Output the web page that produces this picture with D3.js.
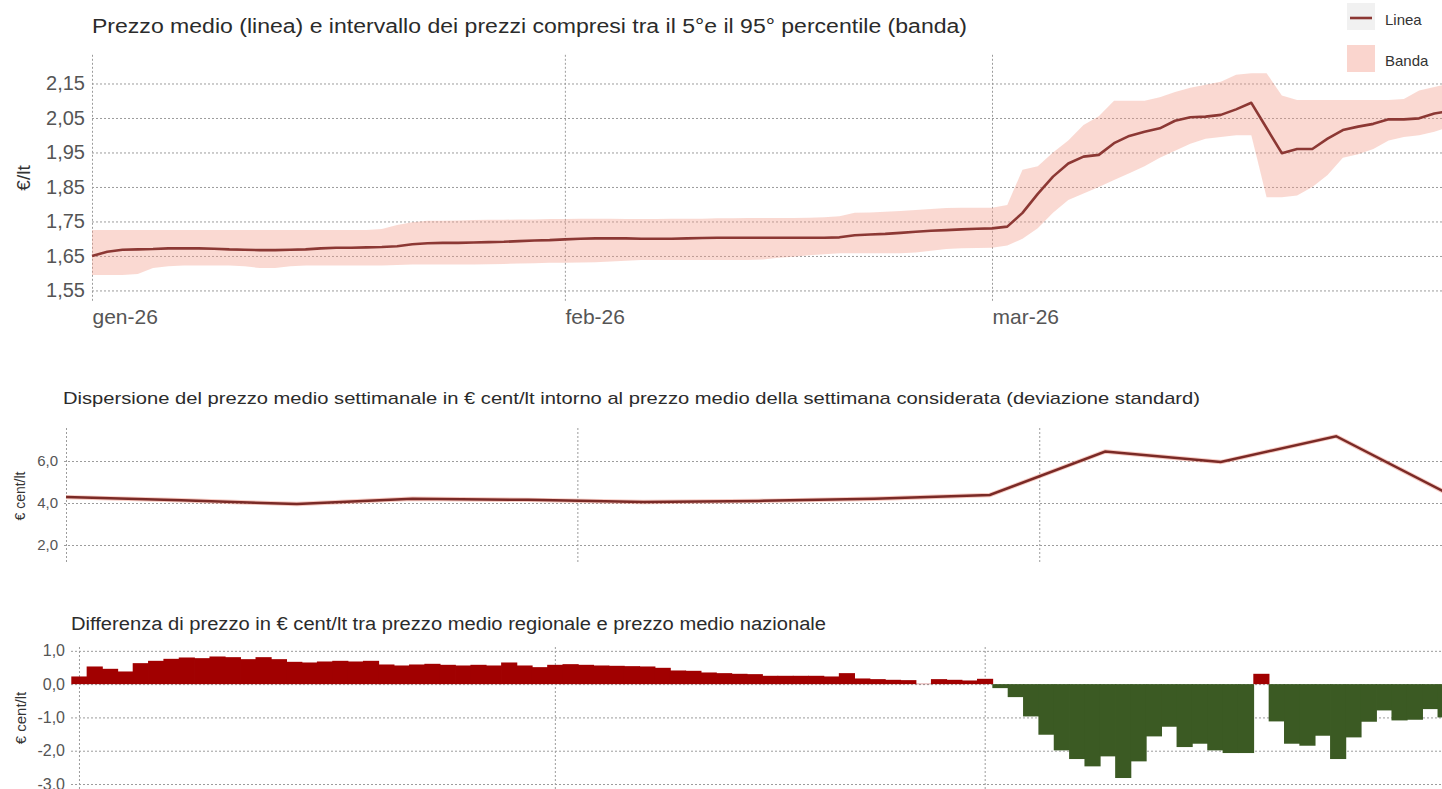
<!DOCTYPE html>
<html>
<head>
<meta charset="utf-8">
<script src="https://cdn.jsdelivr.net/npm/d3@7"></script>
<style>
body { margin: 0; background: #fff; }
text { font-family: "Liberation Sans", Arial, sans-serif; }
</style>
</head>
<body>
<script>
// valori giornalieri a partire dal 1 gennaio 2026
const prezzoMedio = [
    1.650, 1.662, 1.668, 1.669, 1.670, 1.672, 1.672, 1.672, 1.671, 1.669,
    1.668, 1.667, 1.667, 1.668, 1.669, 1.672, 1.674, 1.674, 1.675, 1.676,
    1.678, 1.684, 1.687, 1.688, 1.688, 1.689, 1.690, 1.691, 1.693, 1.695,
    1.696, 1.698, 1.700, 1.701, 1.701, 1.701, 1.700, 1.700, 1.700, 1.701,
    1.702, 1.703, 1.703, 1.703, 1.703, 1.703, 1.703, 1.703, 1.703, 1.704,
    1.710, 1.712, 1.714, 1.717, 1.720, 1.723, 1.725, 1.727, 1.729, 1.730,
    1.735, 1.775, 1.830, 1.880, 1.918, 1.938, 1.943, 1.977, 1.998, 2.010,
    2.020, 2.042, 2.052, 2.054, 2.059, 2.075, 2.094, 2.021, 1.948, 1.960,
    1.960, 1.990, 2.015, 2.025, 2.033, 2.046, 2.046, 2.049, 2.063, 2.070
];
const bandaMax = [
    1.725, 1.725, 1.725, 1.725, 1.725, 1.725, 1.725, 1.725, 1.725, 1.725,
    1.725, 1.725, 1.725, 1.725, 1.725, 1.725, 1.725, 1.725, 1.725, 1.728,
    1.740, 1.748, 1.752, 1.752, 1.753, 1.754, 1.755, 1.755, 1.756, 1.756,
    1.757, 1.757, 1.758, 1.758, 1.758, 1.757, 1.757, 1.757, 1.758, 1.758,
    1.758, 1.759, 1.759, 1.760, 1.760, 1.760, 1.760, 1.761, 1.762, 1.765,
    1.775, 1.776, 1.778, 1.780, 1.783, 1.786, 1.789, 1.790, 1.790, 1.790,
    1.798, 1.900, 1.910, 1.950, 1.985, 2.030, 2.055, 2.100, 2.100, 2.100,
    2.110, 2.125, 2.138, 2.146, 2.155, 2.175, 2.180, 2.180, 2.115, 2.102,
    2.102, 2.102, 2.102, 2.102, 2.102, 2.102, 2.105, 2.130, 2.140, 2.150
];
const bandaMin = [
    1.595, 1.595, 1.595, 1.598, 1.615, 1.620, 1.622, 1.622, 1.622, 1.622,
    1.620, 1.615, 1.615, 1.620, 1.622, 1.622, 1.622, 1.622, 1.622, 1.622,
    1.624, 1.625, 1.625, 1.625, 1.625, 1.625, 1.626, 1.627, 1.628, 1.629,
    1.630, 1.630, 1.631, 1.632, 1.634, 1.636, 1.638, 1.638, 1.638, 1.638,
    1.638, 1.638, 1.638, 1.638, 1.640, 1.645, 1.648, 1.652, 1.655, 1.658,
    1.658, 1.658, 1.658, 1.658, 1.660, 1.665, 1.670, 1.672, 1.673, 1.674,
    1.680, 1.700, 1.730, 1.775, 1.812, 1.831, 1.850, 1.870, 1.890, 1.910,
    1.935, 1.955, 1.975, 1.990, 1.995, 2.000, 2.000, 1.820, 1.820, 1.825,
    1.850, 1.885, 1.935, 1.945, 1.960, 1.985, 1.995, 2.000, 2.010, 2.025
];
const differenza = [
    0.23, 0.53, 0.46, 0.38, 0.63, 0.70, 0.76, 0.80, 0.78, 0.83,
    0.81, 0.75, 0.81, 0.75, 0.67, 0.65, 0.68, 0.70, 0.68, 0.70,
    0.59, 0.56, 0.59, 0.61, 0.58, 0.56, 0.58, 0.56, 0.65, 0.56,
    0.51, 0.58, 0.60, 0.58, 0.56, 0.55, 0.54, 0.53, 0.49, 0.41,
    0.40, 0.35, 0.33, 0.31, 0.30, 0.25, 0.25, 0.25, 0.25, 0.23,
    0.33, 0.17, 0.15, 0.13, 0.12, 0.01, 0.15, 0.13, 0.11, 0.16,
    -0.12, -0.39, -0.97, -1.52, -1.99, -2.25, -2.47, -2.17, -2.82, -2.32,
    -1.57, -1.28, -1.89, -1.79, -1.99, -2.07, -2.07, 0.31, -1.12, -1.79,
    -1.85, -1.55, -2.25, -1.60, -1.13, -0.79, -1.09, -1.07, -0.75, -1.00
];

// valori settimanali
const settimane = [
    "2026-01-01", "2026-01-08", "2026-01-15", "2026-01-22", "2026-01-29",
    "2026-02-05", "2026-02-12", "2026-02-19", "2026-02-26",
    "2026-03-05", "2026-03-12", "2026-03-19", "2026-03-26"
];
const deviazione = [4.28, 4.13, 3.95, 4.20, 4.15, 4.05, 4.10, 4.20, 4.38, 6.45, 5.95, 7.18, 4.35];

// assi
const mesi = ["2026-01-01", "2026-02-01", "2026-03-01"];
const mesiLabels = ["gen-26", "feb-26", "mar-26"];
const prezzoTicks = [1.55, 1.65, 1.75, 1.85, 1.95, 2.05, 2.15];
const devTicks = [2, 4, 6];
const diffTicks = [1, 0, -1, -2, -3];

const width = 1442;
const height = 789;
const inizio = new Date(Date.UTC(2026, 0, 1));
const meseDate = mesi.map(function(s) { return new Date(s + "T00:00:00Z"); });

var it = d3.formatLocale({ decimal: ",", thousands: ".", grouping: [3], currency: ["€", ""], minus: "-" });

var giornaliero = prezzoMedio.map(function(v, i) {
    return { date: d3.utcDay.offset(inizio, i), media: v, min: bandaMin[i], max: bandaMax[i], diff: differenza[i] };
});
var settimanale = settimane.map(function(s, i) {
    return { date: new Date(s + "T00:00:00Z"), value: deviazione[i] };
});

var svg = d3.select("body").append("svg")
    .attr("width", width)
    .attr("height", height);

function styleGrid(g, fontSize) {
    g.select(".domain").remove();
    g.selectAll(".tick line")
        .attr("stroke", "#9c9c9c")
        .attr("stroke-width", 1)
        .attr("stroke-dasharray", "2,2");
    g.selectAll(".tick text")
        .attr("fill", "#555")
        .style("font-size", fontSize + "px")
        .style("font-family", "'Liberation Sans', Arial, sans-serif");
}

function title(x, y, size, len, str) {
    svg.append("text")
        .attr("x", x)
        .attr("y", y)
        .attr("fill", "#2b2b2b")
        .style("font-size", size + "px")
        .attr("textLength", len)
        .attr("lengthAdjust", "spacingAndGlyphs")
        .text(str);
}

function yTitle(x, y, size, str) {
    svg.append("text")
        .attr("transform", "translate(" + x + "," + y + ") rotate(-90)")
        .attr("text-anchor", "middle")
        .attr("fill", "#333")
        .style("font-size", size + "px")
        .text(str);
}

// ---------- pannello 1: prezzo medio e banda ----------
var xTop = d3.scaleUtc()
    .domain([inizio, d3.utcHour.offset(inizio, 88.5 * 24)])
    .range([92, width]);
var yTop = d3.scaleLinear().domain([1.52, 2.23]).range([300.8, 55.9]);

svg.append("g")
    .attr("transform", "translate(92,0)")
    .call(d3.axisLeft(yTop).tickValues(prezzoTicks).tickSize(-(width - 92)).tickPadding(7).tickFormat(it.format(".2f")))
    .call(function(g) { styleGrid(g, 20); });

var xAxisTop = svg.append("g")
    .attr("transform", "translate(0,300.8)")
    .call(d3.axisBottom(xTop).tickValues(meseDate).tickSize(-(300.8 - 54)).tickPadding(8)
        .tickFormat(function(d, i) { return mesiLabels[i]; }))
    .call(function(g) { styleGrid(g, 21); });
xAxisTop.selectAll(".tick text").attr("text-anchor", "start");

svg.append("path")
    .datum(giornaliero)
    .attr("fill", "#f29a8a")
    .attr("fill-opacity", 0.38)
    .attr("d", d3.area()
        .x(function(d) { return xTop(d.date); })
        .y0(function(d) { return yTop(d.min); })
        .y1(function(d) { return yTop(d.max); }));

svg.append("path")
    .datum(giornaliero)
    .attr("fill", "none")
    .attr("stroke", "#8c3834")
    .attr("stroke-width", 2.6)
    .attr("stroke-linejoin", "round")
    .attr("d", d3.line()
        .x(function(d) { return xTop(d.date); })
        .y(function(d) { return yTop(d.media); }));

title(92, 33, 20, 875, "Prezzo medio (linea) e intervallo dei prezzi compresi tra il 5°e il 95° percentile (banda)");
yTitle(30, 178, 19, "€/lt");

// legenda
svg.append("rect").attr("x", 1347).attr("y", 3).attr("width", 28).attr("height", 27).attr("fill", "#f1f1f1");
svg.append("line").attr("x1", 1350).attr("x2", 1372).attr("y1", 18).attr("y2", 18)
    .attr("stroke", "#8c3834").attr("stroke-width", 2.6);
svg.append("text").attr("x", 1385).attr("y", 25).attr("fill", "#333").style("font-size", "15px").text("Linea");
svg.append("rect").attr("x", 1347).attr("y", 45).attr("width", 28).attr("height", 27)
    .attr("fill", "#f29a8a").attr("fill-opacity", 0.42);
svg.append("text").attr("x", 1385).attr("y", 66).attr("fill", "#333").style("font-size", "15px").text("Banda");

// ---------- pannello 2: deviazione standard settimanale ----------
var xMid = d3.scaleUtc()
    .domain([inizio, d3.utcHour.offset(inizio, Math.round(83.4 * 24))])
    .range([66, width]);
var yMid = d3.scaleLinear().domain([1.2, 7.6]).range([561.8, 427.4]);

svg.append("g")
    .attr("transform", "translate(64,0)")
    .call(d3.axisLeft(yMid).tickValues(devTicks).tickSize(-(width - 64)).tickPadding(6).tickFormat(it.format(".1f")))
    .call(function(g) { styleGrid(g, 15); });

svg.append("g")
    .attr("transform", "translate(0,562)")
    .call(d3.axisBottom(xMid).tickValues(meseDate).tickSize(-(562 - 426)).tickFormat(""))
    .call(function(g) { styleGrid(g, 15); });

var lineMid = d3.line()
    .x(function(d) { return xMid(d.date); })
    .y(function(d) { return yMid(d.value); });

svg.append("path")
    .datum(settimanale)
    .attr("fill", "none")
    .attr("stroke", "#e5634c")
    .attr("stroke-opacity", 0.35)
    .attr("stroke-width", 4.4)
    .attr("d", lineMid);
svg.append("path")
    .datum(settimanale)
    .attr("fill", "none")
    .attr("stroke", "#7a2a26")
    .attr("stroke-width", 2.5)
    .attr("d", lineMid);

title(63, 404, 17, 1137, "Dispersione del prezzo medio settimanale in € cent/lt intorno al prezzo medio della settimana considerata (deviazione standard)");
yTitle(25, 496, 14, "€ cent/lt");

// ---------- pannello 3: differenza regionale - nazionale ----------
var xBot = d3.scaleUtc()
    .domain([d3.utcHour.offset(inizio, -12), d3.utcHour.offset(inizio, Math.round(88.8 * 24))])
    .range([71.3, width]);
var yBot = d3.scaleLinear().domain([-3.15, 1.1]).range([789, 647.5]);

svg.append("g")
    .attr("transform", "translate(71,0)")
    .call(d3.axisLeft(yBot).tickValues(diffTicks).tickSize(-(width - 71)).tickPadding(6).tickFormat(it.format(".1f")))
    .call(function(g) { styleGrid(g, 16); });

svg.append("g")
    .attr("transform", "translate(0,789)")
    .call(d3.axisBottom(xBot).tickValues(meseDate).tickSize(-(789 - 647)).tickFormat(""))
    .call(function(g) { styleGrid(g, 16); });

// barre affiancate senza spazi: leggera sovrapposizione
svg.append("g")
    .selectAll("rect")
    .data(giornaliero)
    .enter().append("rect")
    .attr("x", function(d) { return xBot(d3.utcHour.offset(d.date, -12)); })
    .attr("width", function(d) { return xBot(d3.utcHour.offset(d.date, 12)) - xBot(d3.utcHour.offset(d.date, -12)) + 0.8; })
    .attr("y", function(d) { return yBot(Math.max(0, d.diff)); })
    .attr("height", function(d) { return Math.abs(yBot(d.diff) - yBot(0)); })
    .attr("fill", function(d) { return d.diff >= 0 ? "#a10000" : "#3b5a23"; });

title(71, 630, 18, 755, "Differenza di prezzo in € cent/lt tra prezzo medio regionale e prezzo medio nazionale");
yTitle(26, 718, 15, "€ cent/lt");
</script>
</body>
</html>
